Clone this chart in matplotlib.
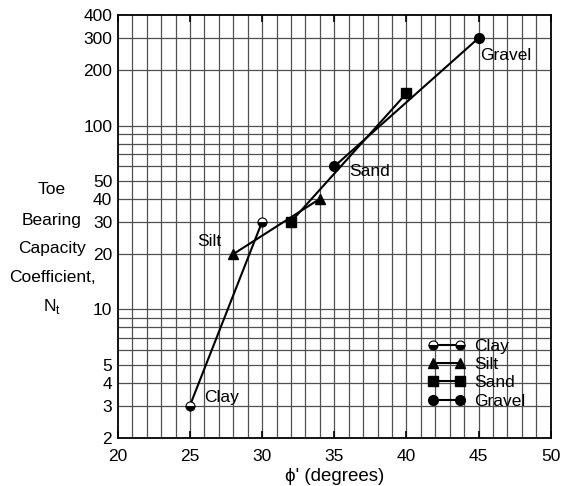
import matplotlib
matplotlib.use("Agg")
import matplotlib.pyplot as plt
from matplotlib.ticker import FixedLocator, NullFormatter, FixedFormatter

plt.rcParams['font.family'] = ['Liberation Sans', 'DejaVu Sans']

# data
clay_phi = [25, 30]
clay_nt = [3, 30]
silt_phi = [28, 34]
silt_nt = [20, 40]
sand_phi = [32, 40]
sand_nt = [30, 150]
gravel_phi = [35, 45]
gravel_nt = [60, 300]

y_ticks = [2, 3, 4, 5, 10, 20, 30, 40, 50, 100, 200, 300, 400]
y_grid = [2, 3, 4, 5, 6, 7, 8, 9, 10, 20, 30, 40, 50, 60, 70, 80, 90,
          100, 200, 300, 400]
x_ticks = [20, 25, 30, 35, 40, 45, 50]

fig = plt.figure(figsize=(5.69, 4.86), dpi=100)
ax = fig.add_axes([0.207, 0.099, 0.761, 0.870])

ax.set_yscale('log')
ax.set_xlim(20, 50)
ax.set_ylim(2, 400)

# grid: every degree, every log step
for x in range(21, 50):
    ax.axvline(x, color='#505050', lw=0.9, zorder=1)
for y in y_grid[1:-1]:
    ax.axhline(y, color='#505050', lw=0.9, zorder=1)

kw = dict(color='black', lw=1.5, zorder=3)
ax.plot(clay_phi, clay_nt, marker='o', fillstyle='bottom', markerfacecoloralt='white',
        markeredgewidth=0.8, ms=6.5, label='Clay', **kw)
ax.plot(silt_phi, silt_nt, marker='^', ms=7, label='Silt', **kw)
ax.plot(sand_phi, sand_nt, marker='s', ms=6.5, label='Sand', **kw)
ax.plot(gravel_phi, gravel_nt, marker='o', ms=7, label='Gravel', **kw)

fs = 12.5
ax.text(45.1, 240, 'Gravel', fontsize=fs, va='center', zorder=4)
ax.text(36.0, 56, 'Sand', fontsize=fs, va='center', zorder=4)
ax.text(25.5, 23.3, 'Silt', fontsize=fs, va='center', zorder=4)
ax.text(26.0, 3.3, 'Clay', fontsize=fs, va='center', zorder=4)

ax.yaxis.set_major_locator(FixedLocator(y_ticks))
ax.yaxis.set_major_formatter(FixedFormatter([str(v) for v in y_ticks]))
ax.yaxis.set_minor_locator(FixedLocator([]))
ax.yaxis.set_minor_formatter(NullFormatter())
ax.set_xticks(x_ticks)
ax.tick_params(axis='x', direction='in', top=True, length=5, width=1.2, labelsize=fs, pad=8)
ax.tick_params(axis='y', direction='in', length=0, labelsize=fs, pad=4)

for s in ax.spines.values():
    s.set_linewidth(1.3)

ax.set_xlabel("ϕ' (degrees)", fontsize=13.5, labelpad=3)

# stacked y label
for txt, py in [('Toe', 189), ('Bearing', 220), ('Capacity', 248),
                ('Coefficient,', 278), ('N$_\\mathregular{t}$', 307)]:
    fig.text(52 / 569, 1 - py / 486, txt, fontsize=fs, ha='center', va='center')

leg = ax.legend(loc='upper left', bbox_to_anchor=(0.695, 0.255), frameon=False,
                numpoints=2, handlelength=2.2, fontsize=fs, labelspacing=0.18,
                handletextpad=0.5, borderpad=0)

fig.savefig('out.png', dpi=100)
